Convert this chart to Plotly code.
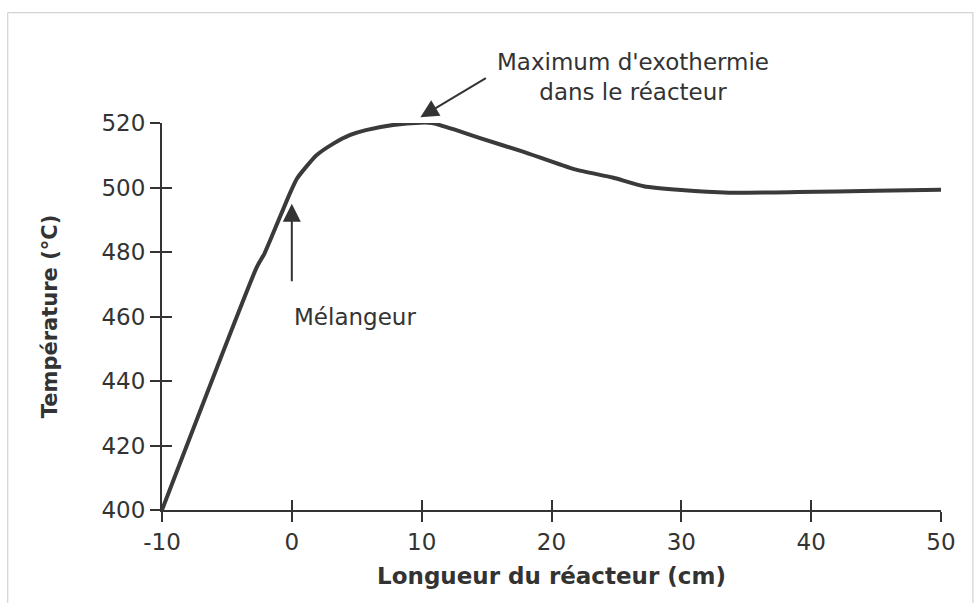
import plotly.graph_objects as go

# reactor temperature profile
longueur = [-10, -2.7, -2.1, -0.15, 0.4, 1.1, 1.9, 3.2, 4.5, 5.7, 7.8, 9.9, 10.8,
            12.5, 14.5, 17.8, 21.8, 24.7, 27.1, 30, 33.7, 39, 45, 50]
temperature = [400, 475.3, 479.6, 498.2, 502.8, 506.4, 510, 513.6, 516.3, 517.8, 519.4,
               520.1, 520, 518, 515.3, 511.1, 505.6, 503.1, 500.4, 499.2, 498.4, 498.6,
               499.0, 499.3]

x_ticks = [-10, 0, 10, 20, 30, 40, 50]
x_labels = ["-10", "0", "10", "20", "30", "40", "50"]
y_ticks = [400, 420, 440, 460, 480, 500, 520]

ink = "#333333"
font_name = "DejaVu Sans"

fig = go.Figure()

fig.add_trace(go.Scatter(
    x=longueur,
    y=temperature,
    mode="lines",
    line=dict(color="#3a3a3a", width=4, shape="spline", smoothing=0.5),
    showlegend=False,
))

# second pair of axes only to get ticks crossing the axis lines
fig.add_trace(go.Scatter(x=[None], y=[None], xaxis="x2", yaxis="y2", showlegend=False))

axis_common = dict(
    showgrid=False,
    zeroline=False,
    showline=True,
    linecolor=ink,
    linewidth=2,
    tickcolor=ink,
    tickwidth=2,
    ticklen=10,
)

fig.update_layout(
    width=979,
    height=603,
    plot_bgcolor="white",
    paper_bgcolor="white",
    margin=dict(l=162, r=38, t=123, b=93),
    font=dict(family=font_name, color=ink),
    xaxis=dict(
        range=[-10, 50],
        tickvals=x_ticks,
        ticktext=x_labels,
        ticks="outside",
        tickfont=dict(size=23, color=ink),
        title=dict(text="<b>Longueur du réacteur (cm)</b>",
                   font=dict(size=23, color=ink), standoff=14),
        **axis_common,
    ),
    yaxis=dict(
        range=[400, 520],
        tickvals=y_ticks,
        ticks="outside",
        tickfont=dict(size=23, color=ink),
        title=dict(text="<b>Température (°C)</b>",
                   font=dict(size=21, color=ink), standoff=38),
        **axis_common,
    ),
    xaxis2=dict(
        range=[-10, 50], tickvals=x_ticks, ticks="inside", showticklabels=False,
        overlaying="x", anchor="y2", side="bottom", **axis_common,
    ),
    yaxis2=dict(
        range=[400, 520], tickvals=y_ticks, ticks="inside", showticklabels=False,
        overlaying="y", anchor="x2", side="left", **axis_common,
    ),
)

# mixer arrow and label
fig.add_annotation(
    x=0, y=495, ax=0, ay=470.5,
    xref="x", yref="y", axref="x", ayref="y",
    showarrow=True, arrowhead=2, arrowsize=1.8, arrowwidth=2, arrowcolor=ink,
    text="",
)
fig.add_annotation(
    x=0, y=460, xref="x", yref="y",
    text="Mélangeur", showarrow=False,
    xanchor="left", yanchor="middle",
    font=dict(size=23, color=ink),
)

# exotherm maximum arrow and label (sit above the y range, so paper y)
fig.add_annotation(
    x=9.9, y=1.015, xref="x", yref="paper",
    ax=67, ay=-40,
    showarrow=True, arrowhead=2, arrowsize=1.8, arrowwidth=2, arrowcolor=ink,
    text="",
)
fig.add_annotation(
    x=0.605, y=1.119, xref="paper", yref="paper",
    text="Maximum d'exothermie<br>dans le réacteur", showarrow=False,
    xanchor="center", yanchor="middle", align="center",
    font=dict(size=23, color=ink),
)

# faint frame of the scanned page
fig.add_shape(
    type="rect", xref="paper", yref="paper",
    x0=-0.198, x1=1.041, y0=-0.3, y1=1.285,
    line=dict(color="#c8c8c8", width=1),
)

fig.write_html("out.html", config={"displayModeBar": False},
               post_script="document.body.style.margin='0';")
